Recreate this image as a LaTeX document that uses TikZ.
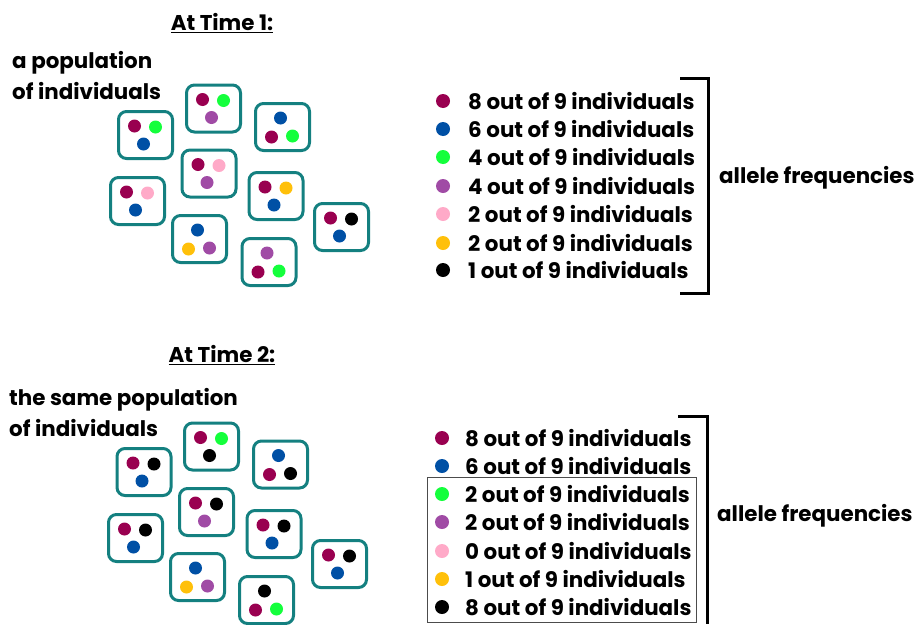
\documentclass[tikz,border=0pt]{standalone}
\usepackage{fontspec}
\setmainfont{Poppins}
\definecolor{maroon}{RGB}{153,0,80}
\definecolor{alblue}{RGB}{0,80,165}
\definecolor{algreen}{RGB}{20,255,60}
\definecolor{alpurple}{RGB}{160,75,165}
\definecolor{alpink}{RGB}{255,170,200}
\definecolor{alyellow}{RGB}{255,192,10}
\definecolor{boxteal}{RGB}{20,128,128}
\tikzset{
  indiv/.style={draw=boxteal, line width=3pt, rounded corners=8pt,
    minimum width=54pt, minimum height=47pt, inner sep=0pt},
  allele/.style={circle, inner sep=0pt, minimum size=13pt},
  keydot/.style={circle, inner sep=0pt, minimum size=14pt},
  label/.style={font=\bfseries\fontsize{21.4}{25}\selectfont, inner sep=0pt},
  bracket/.style={line width=3pt}
}
% a box with two alleles on top and one below
\newcommand{\upbox}[5]{%
  \node[indiv] (#1) at (#2) {};
  \node[allele, fill=#3] (#1a) at ([shift={(-11,-9)}]#1.center) {};
  \node[allele, fill=#4] (#1b) at ([shift={(10,-8)}]#1.center) {};
  \node[allele, fill=#5] (#1c) at ([shift={(-2,9)}]#1.center) {};
}
% a box with one allele on top and two below
\newcommand{\downbox}[5]{%
  \node[indiv] (#1) at (#2) {};
  \node[allele, fill=#3] (#1a) at ([shift={(-2,-9)}]#1.center) {};
  \node[allele, fill=#4] (#1b) at ([shift={(-11,10)}]#1.center) {};
  \node[allele, fill=#5] (#1c) at ([shift={(10,9)}]#1.center) {};
}
\begin{document}
\begin{tikzpicture}[x=1pt, y=-1pt]
    \useasboundingbox (0,0) rectangle (917,624);

    % Time 1
    \node[label] (title1) at (222,23) {\underline{At Time 1:}};
    \node[label, anchor=west] (pop1a) at (12,63) {a population};
    \node[label, anchor=west] (pop1b) at (12,91) {of individuals};

    \upbox{a1}{145.5,135}{maroon}{algreen}{alblue}
    \upbox{b1}{213.5,108.5}{maroon}{algreen}{alpurple}
    \downbox{c1}{282.5,127}{alblue}{maroon}{algreen}
    \upbox{d1}{209,173.5}{maroon}{alpink}{alpurple}
    \upbox{e1}{137.5,201}{maroon}{alpink}{alblue}
    \upbox{f1}{276,196}{maroon}{alyellow}{alblue}
    \upbox{g1}{341.5,227}{maroon}{black}{alblue}
    \downbox{h1}{199.5,239}{alblue}{alyellow}{alpurple}
    \downbox{i1}{269,262}{alpurple}{maroon}{algreen}

    \node[keydot, fill=maroon] (k11) at (443,101) {};
    \node[keydot, fill=alblue] (k12) at (443,129) {};
    \node[keydot, fill=algreen] (k13) at (443,157) {};
    \node[keydot, fill=alpurple] (k14) at (443,186) {};
    \node[keydot, fill=alpink] (k15) at (443,214) {};
    \node[keydot, fill=alyellow] (k16) at (443,243) {};
    \node[keydot, fill=black] (k17) at (443,270) {};

    \node[label, anchor=west] (n11) at (468,101) {8 out of 9 individuals};
    \node[label, anchor=west] (n12) at (468,129) {6 out of 9 individuals};
    \node[label, anchor=west] (n13) at (468,157) {4 out of 9 individuals};
    \node[label, anchor=west] (n14) at (468,186) {4 out of 9 individuals};
    \node[label, anchor=west] (n15) at (468,214) {2 out of 9 individuals};
    \node[label, anchor=west] (n16) at (468,243) {2 out of 9 individuals};
    \node[label, anchor=west] (n17) at (468,270) {1 out of 9 individuals};

    \coordinate (br1top) at (680,78);
    \coordinate (br1bot) at (680,293);
    \draw[bracket] (br1top) -| (708,293) -- (br1bot);
    \node[label, anchor=west] (freq1) at (719,178) {allele frequencies};

    % Time 2
    \node[label] (title2) at (222,355) {\underline{At Time 2:}};
    \node[label, anchor=west] (pop2a) at (9,400) {the same population};
    \node[label, anchor=west] (pop2b) at (9,428) {of individuals};

    \upbox{a2}{144,472}{maroon}{black}{alblue}
    \upbox{b2}{211.5,446.5}{maroon}{algreen}{black}
    \downbox{c2}{280.5,464.5}{alblue}{maroon}{black}
    \upbox{d2}{206.5,512}{maroon}{black}{alpurple}
    \upbox{e2}{135.5,538}{maroon}{black}{alblue}
    \upbox{f2}{274,534}{maroon}{black}{alblue}
    \upbox{g2}{339.5,564}{maroon}{black}{alblue}
    \downbox{h2}{197.5,577}{alblue}{alyellow}{alpurple}
    \downbox{i2}{266.5,600}{black}{maroon}{algreen}

    \node[keydot, fill=maroon] (k21) at (442,438) {};
    \node[keydot, fill=alblue] (k22) at (442,466) {};
    \node[keydot, fill=algreen] (k23) at (442,494) {};
    \node[keydot, fill=alpurple] (k24) at (442,522) {};
    \node[keydot, fill=alpink] (k25) at (442,551) {};
    \node[keydot, fill=alyellow] (k26) at (442,579) {};
    \node[keydot, fill=black] (k27) at (442,607) {};

    \node[label, anchor=west] (n21) at (465,438) {8 out of 9 individuals};
    \node[label, anchor=west] (n22) at (465,466) {6 out of 9 individuals};
    \node[label, anchor=west] (n23) at (465,494) {2 out of 9 individuals};
    \node[label, anchor=west] (n24) at (465,522) {2 out of 9 individuals};
    \node[label, anchor=west] (n25) at (465,551) {0 out of 9 individuals};
    \node[label, anchor=west] (n26) at (465,579) {1 out of 9 individuals};
    \node[label, anchor=west] (n27) at (465,607) {8 out of 9 individuals};

    \draw[black!70, line width=1pt] (427,477) rectangle (696,622);

    \coordinate (br2top) at (678,416);
    \draw[bracket] (br2top) -| (707,624);
    \node[label, anchor=west] (freq2) at (717,516) {allele frequencies};
\end{tikzpicture}
\end{document}
